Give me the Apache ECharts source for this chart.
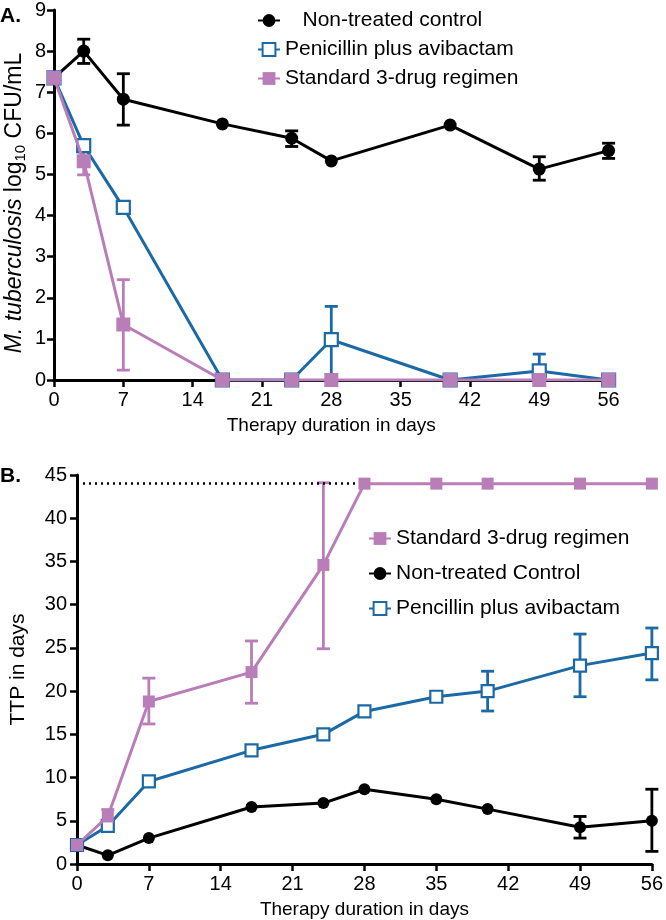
<!DOCTYPE html>
<html>
<head>
<meta charset="utf-8">
<script src="https://cdn.jsdelivr.net/npm/echarts@6/dist/echarts.min.js"></script>
<style>
html,body{margin:0;padding:0;background:#fff;}
#chart{width:666px;height:920px;}
</style>
</head>
<body>
<div id="chart"></div>
<script>
// ---------- DATA ----------
const xTicks = [0, 7, 14, 21, 28, 35, 42, 49, 56];

// Panel A: M. tuberculosis log10 CFU/mL
const daysA = [0, 3, 7, 17, 24, 28, 40, 49, 56];
const ctrlA = [7.35, 8.0, 6.83, 6.23, 5.88, 5.33, 6.2, 5.13, 5.58];
const peniA = [7.35, 5.7, 4.2, 0, 0, 0.98, 0, 0.22, 0];
const stdA  = [7.35, 5.32, 1.35, 0, 0, 0, 0, 0, 0];
// error bars [day, low, high]
const ctrlAErr = [[3, 7.7, 8.29], [7, 6.2, 7.45], [24, 5.68, 6.06], [49, 4.86, 5.43], [56, 5.39, 5.76]];
const peniAErr = [[3, 5.55, 5.85], [7, 4.1, 4.3], [28, 0, 1.79], [49, 0, 0.63]];
const stdAErr  = [[3, 4.99, 5.64], [7, 0.24, 2.44]];

// Panel B: TTP in days
const daysB = [0, 3, 7, 17, 24, 28, 35, 40, 49, 56];
const stdB  = [2.2, 5.5, 18.8, 22.2, 34.6, 44, 44, 44, 44, 44];
const ctrlB = [2.2, 1.0, 3.0, 6.6, 7.05, 8.65, 7.5, 6.35, 4.25, 5.0];
const peniB = [2.2, 4.4, 9.55, 13.15, 15.0, 17.65, 19.35, 20.0, 22.95, 24.4];
const stdBErr  = [[3, 4.9, 6.3], [7, 16.2, 21.5], [17, 18.6, 25.8], [24, 24.9, 44.1]];
const ctrlBErr = [[49, 3.0, 5.5], [56, 1.46, 8.65]];
const peniBErr = [[28, 17.2, 18.1], [40, 17.7, 22.3], [49, 19.35, 26.6], [56, 21.3, 27.3]];
const ttpLimit = 44;
const ttpLimitEnd = 28;

// ---------- STYLE ----------
const BLACK = '#000000';
const BLUE = '#1b6aa5';
const PINK = '#b97db8';
const FONT = 'Liberation Sans, Arial, Helvetica, sans-serif';

const zip = (xs, ys) => xs.map((x, i) => [x, ys[i]]);

function errRender(color, capW, lw) {
  return function (params, api) {
    const x = api.value(0), lo = api.value(1), hi = api.value(2);
    const p1 = api.coord([x, hi]);
    const p2 = api.coord([x, lo]);
    const h = capW / 2;
    const st = { stroke: color, lineWidth: lw };
    return {
      type: 'group',
      children: [
        { type: 'line', shape: { x1: p1[0], y1: p1[1], x2: p2[0], y2: p2[1] }, style: st },
        { type: 'line', shape: { x1: p1[0] - h, y1: p1[1], x2: p1[0] + h, y2: p1[1] }, style: st },
        { type: 'line', shape: { x1: p2[0] - h, y1: p2[1], x2: p2[0] + h, y2: p2[1] }, style: st }
      ]
    };
  };
}

function errSeries(data, color, idx) {
  return {
    type: 'custom', xAxisIndex: idx, yAxisIndex: idx,
    renderItem: errRender(color, 13, 2.8),
    data: data, z: 1, silent: true,
    encode: { x: 0, y: [1, 2] }
  };
}

function lineSeries(name, data, color, symbol, size, idx, open, z) {
  return {
    name: name, type: 'line', xAxisIndex: idx, yAxisIndex: idx,
    data: data, symbol: symbol, symbolSize: size, showSymbol: true,
    lineStyle: { color: color, width: 3 },
    itemStyle: open ? { color: '#fff', borderColor: color, borderWidth: 2.2 } : { color: color, borderWidth: 0 },
    color: color, z: z, animation: false
  };
}

const axisCommon = {
  axisLine: { show: true, onZero: false, lineStyle: { color: BLACK, width: 3 } },
  axisTick: { show: true, inside: false, length: 7, lineStyle: { color: BLACK, width: 2.5 } },
  splitLine: { show: false },
  axisLabel: { color: BLACK, fontSize: 20, fontFamily: FONT },
  nameTextStyle: { color: BLACK, fontSize: 19, fontFamily: FONT }
};

const chart = echarts.init(document.getElementById('chart'), null, { renderer: 'canvas' });

const option = {
  backgroundColor: '#fff',
  animation: false,
  textStyle: { fontFamily: FONT },
  grid: [
    { left: 54, top: 7.3, width: 554.6, height: 372.7 },
    { left: 72, top: 475, width: 583, height: 390 }
  ],
  xAxis: [
    Object.assign({}, axisCommon, {
      type: 'value', gridIndex: 0, min: 0, max: 56, interval: 7,
      name: 'Therapy duration in days', nameLocation: 'middle', nameGap: 36,
      axisLabel: Object.assign({}, axisCommon.axisLabel, { margin: 10 })
    }),
    Object.assign({}, axisCommon, {
      type: 'value', gridIndex: 1, min: 0, max: 56, interval: 7,
      name: 'Therapy duration in days', nameLocation: 'middle', nameGap: 36,
      axisLabel: Object.assign({}, axisCommon.axisLabel, { margin: 10 })
    })
  ],
  yAxis: [
    Object.assign({}, axisCommon, {
      type: 'value', gridIndex: 0, min: 0, max: 9, interval: 1,
      axisLabel: Object.assign({}, axisCommon.axisLabel, { margin: 8 })
    }),
    Object.assign({}, axisCommon, {
      type: 'value', gridIndex: 1, min: 0, max: 45, interval: 5,
      name: 'TTP in days', nameLocation: 'middle', nameGap: 48,
      nameTextStyle: { color: BLACK, fontSize: 21, fontFamily: FONT },
      axisLabel: Object.assign({}, axisCommon.axisLabel, { margin: 10 })
    })
  ],
  legend: [
    {
      orient: 'vertical', left: 252, top: 4, itemWidth: 22, itemHeight: 16, itemGap: 6,
      data: ['Non-treated control', 'Penicillin plus avibactam', 'Standard 3-drug regimen'],
      formatter: n => (n === 'Non-treated control' ? '   ' + n : n),
      textStyle: { color: BLACK, fontSize: 21, fontFamily: FONT, lineHeight: 23, padding: [0, 0, 0, 0] },
      selectedMode: false
    },
    {
      orient: 'vertical', left: 363, top: 522, itemWidth: 22, itemHeight: 16, itemGap: 12,
      data: ['Standard 3-drug regimen', 'Non-treated Control', 'Pencillin plus avibactam'],
      textStyle: { color: BLACK, fontSize: 21, fontFamily: FONT, lineHeight: 23, padding: [0, 0, 0, 0] },
      selectedMode: false
    }
  ],
  graphic: [
    { type: 'text', left: 0, top: 6, style: { text: 'A.', font: 'bold 21px ' + FONT, fill: BLACK } },
    { type: 'text', left: 0, top: 466, style: { text: 'B.', font: 'bold 21px ' + FONT, fill: BLACK } },
    {
      type: 'text', x: 15, y: 203, rotation: Math.PI / 2,
      style: {
        text: '{i|M. tuberculosis} log{s|10} CFU/mL',
        align: 'center', verticalAlign: 'middle',
        font: '23px ' + FONT, fill: BLACK,
        rich: {
          i: { fontStyle: 'italic', fontSize: 23, fontFamily: FONT, fill: BLACK, color: BLACK },
          s: { fontSize: 15, fontFamily: FONT, fill: BLACK, color: BLACK, verticalAlign: 'bottom', padding: [12, 0, 0, 0] }
        }
      }
    }
  ],
  series: [
    // Panel A
    errSeries(peniAErr, BLUE, 0),
    errSeries(stdAErr, PINK, 0),
    errSeries(ctrlAErr, BLACK, 0),
    lineSeries('Non-treated control', zip(daysA, ctrlA), BLACK, 'circle', 13, 0, false, 3),
    lineSeries('Penicillin plus avibactam', zip(daysA, peniA), BLUE, 'rect', 13, 0, true, 4),
    lineSeries('Standard 3-drug regimen', zip(daysA, stdA), PINK, 'rect', 14, 0, false, 5),
    // Panel B
    errSeries(peniBErr, BLUE, 1),
    errSeries(ctrlBErr, BLACK, 1),
    errSeries(stdBErr, PINK, 1),
    lineSeries('Non-treated Control', zip(daysB, ctrlB), BLACK, 'circle', 12, 1, false, 3),
    lineSeries('Pencillin plus avibactam', zip(daysB, peniB), BLUE, 'rect', 12, 1, true, 4),
    Object.assign(lineSeries('Standard 3-drug regimen', zip(daysB, stdB), PINK, 'rect', 12, 1, false, 5), {
      markLine: {
        silent: true, symbol: ['none', 'none'], animation: false,
        lineStyle: { color: BLACK, type: [2, 4], width: 2.5 },
        label: { show: false },
        data: [[{ coord: [0, ttpLimit] }, { coord: [ttpLimitEnd, ttpLimit] }]]
      }
    })
  ]
};
chart.setOption(option);
</script>
</body>
</html>
